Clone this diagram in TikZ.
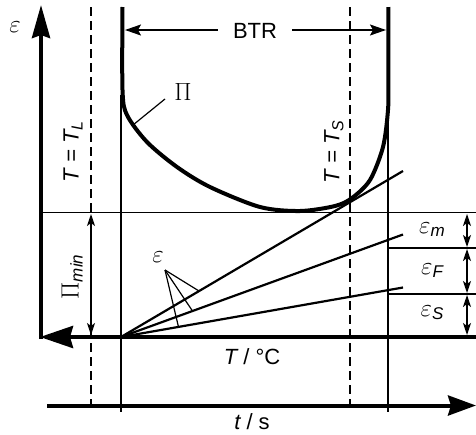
\documentclass[tikz,border=0pt]{standalone}
\usepackage{fontspec}
\setmainfont{Liberation Sans}
\usetikzlibrary{arrows.meta}
\begin{document}
\begin{tikzpicture}[x=1pt,y=-1pt,
  thinline/.style={line width=1.2pt},
  axisline/.style={line width=4pt},
  curveline/.style={line width=4pt},
  rayline/.style={line width=2.2pt},
  dashline/.style={line width=1.2pt, dash pattern=on 9pt off 5pt},
  dimarrow/.style={line width=1.4pt, {Stealth[length=12pt,width=8pt,inset=3pt]}-{Stealth[length=12pt,width=8pt,inset=3pt]}},
  btrarrow/.style={line width=1.5pt, -{Stealth[length=16pt,width=11pt,inset=3pt]}},
  lbl/.style={font=\fontsize{22}{26}\selectfont, inner sep=0pt},
  glbl/.style={font=\fontsize{23}{26}\selectfont, inner sep=0pt},
]
\useasboundingbox (0,0) rectangle (476,434);
% key points
\coordinate (O) at (41,339);
\coordinate (Otop) at (41,5);
\coordinate (Xr) at (478,337);
\coordinate (Xl) at (40,337);
\coordinate (tl) at (47,405.5);
\coordinate (tr) at (476,405.5);
\coordinate (P0) at (121,337);
\coordinate (r1) at (403,171);
\coordinate (r2) at (403,234.5);
\coordinate (r3) at (403,287.5);
% grid lines
\draw[dashline] (91,7) -- (91,412);
\draw[dashline] (350,7) -- (350,412);
\draw[thinline] (121,95) -- (121,412);
\draw[thinline] (388,100) -- (388,412);
\draw[thinline] (41,212.7) -- (478,212.7);
\draw[thinline] (388,248) -- (478,248);
\draw[thinline] (388,294) -- (478,294);
% axes
\draw[axisline, -{Stealth[length=33pt,width=18pt,inset=3pt]}] (O) -- (Otop);
\draw[axisline, -{Stealth[length=33pt,width=22pt,inset=3pt]}] (Xr) -- (Xl);
\draw[axisline, -{Stealth[length=28pt,width=20pt,inset=3pt]}] (tl) -- (tr);
% curve Pi
\draw[curveline] plot[smooth, tension=0.5] coordinates {(122.5,7) (122.5,90) (127,115) (147,142) (177,167) (210,187) (260,207) (300,211) (335,206) (352,198) (370,180) (383,147) (388,110) (388.3,80) (388.3,7)};
% rays
\draw[rayline] (P0) -- (r1);
\draw[rayline] (P0) -- (r2);
\draw[rayline] (P0) -- (r3);
% fan of epsilon
\node[glbl, font=\fontsize{24}{26}\selectfont] (eps) at (158,257) {$\varepsilon$};
\coordinate (fa) at (165,270);
\draw[thinline] (fa) -- (199,291);
\draw[thinline] (fa) -- (192.5,311);
\draw[thinline] (fa) -- (178.5,327);
% BTR
\node[lbl, inner xsep=15pt, anchor=base] (btr) at (255,38) {BTR};
\coordinate (bl) at (125,30);
\coordinate (br) at (386,30);
\draw[btrarrow] (btr.west |- bl) -- (bl);
\draw[btrarrow] (btr.east |- br) -- (br);
% Pi label
\node[glbl] (pi) at (183,92) {$\Pi$};
\coordinate (pil) at (165,99);
\coordinate (pic) at (133,125);
\draw[thinline] (pil) -- (pic);
% dimension arrows
\draw[dimarrow] (91,214) -- (91,335);
\draw[dimarrow] (467,214) -- (467,247);
\draw[dimarrow] (467,249) -- (467,293);
\draw[dimarrow] (467,295) -- (467,335);
% labels
\node[glbl, font=\fontsize{24}{26}\selectfont] (epsaxis) at (15,27) {$\varepsilon$};
\node[lbl, rotate=90] (TL) at (73,152) {\itshape T = T\raisebox{-4pt}{\fontsize{16}{16}\selectfont L}};
\node[lbl, rotate=90] (TS) at (334,152) {\itshape T = T\raisebox{-4pt}{\fontsize{16}{16}\selectfont S}};
\node[lbl, rotate=90] (pimin) at (72,277) {{\fontsize{23}{26}\selectfont$\Pi$}\raisebox{-4pt}{\fontsize{17}{17}\selectfont\itshape min}};
\node[glbl] (em) at (432,230) {$\varepsilon$\raisebox{-3pt}{\fontsize{17}{17}\selectfont\itshape m}};
\node[glbl] (eF) at (432,271) {$\varepsilon$\raisebox{-3pt}{\fontsize{17}{17}\selectfont\itshape F}};
\node[glbl] (eS) at (432,313) {$\varepsilon$\raisebox{-3pt}{\fontsize{17}{17}\selectfont\itshape S}};
\node[lbl, anchor=base] (Tc) at (252,364) {{\itshape T} / °C};
\node[lbl, anchor=base] (ts) at (252,429) {{\itshape t} / s};
\end{tikzpicture}
\end{document}
